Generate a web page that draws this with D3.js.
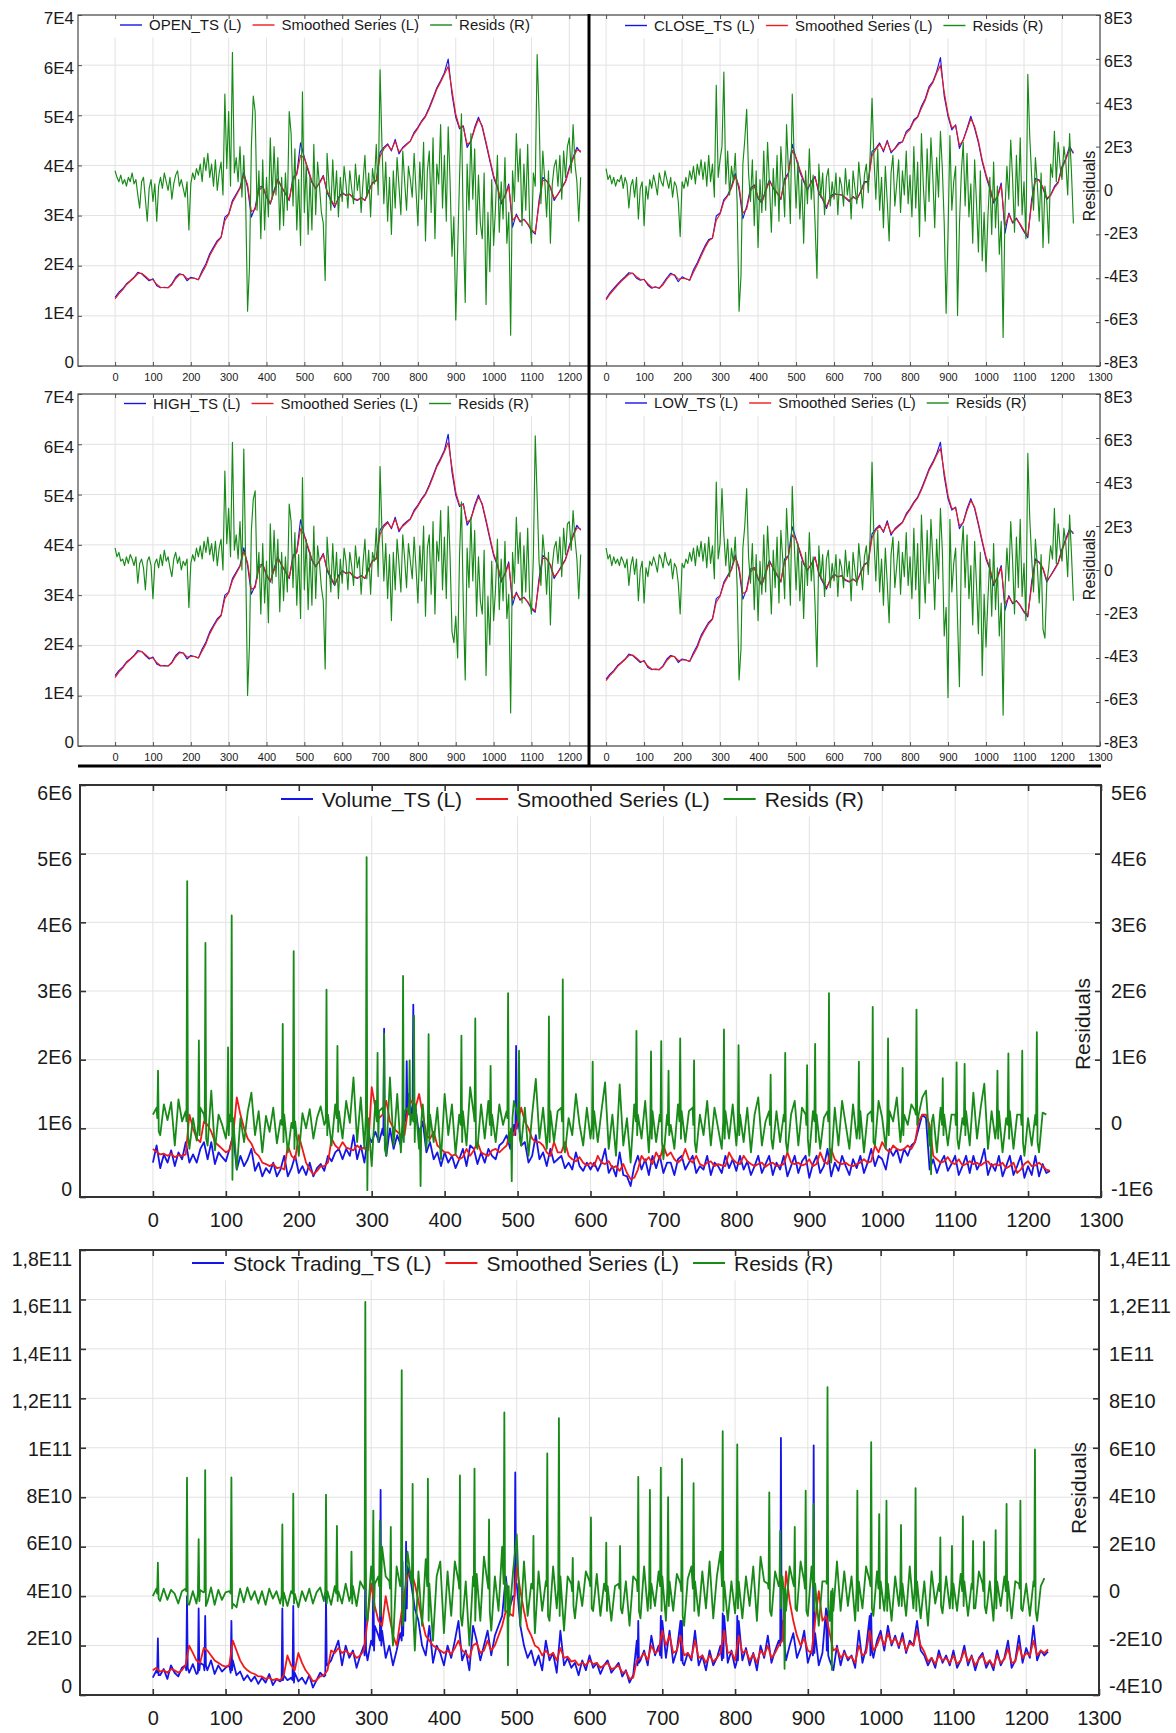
<!DOCTYPE html>
<html><head><meta charset="utf-8">
<script src="https://cdn.jsdelivr.net/npm/d3@7"></script>
<style>
html,body{margin:0;padding:0;background:#fff;}
svg{display:block;}
</style></head><body>
<svg id="chart" width="1176" height="1733"></svg>
<script>
// ---------------- DATA ----------------
// Units: OHLC in 1E3, Volume in 1E5, Stock trading in 1E9
const OHLC_UNIT = 1e3, VOL_UNIT = 1e5, ST_UNIT = 1e9;
const STEP_LEVEL = 10, STEP_RESID = 5, STEP_BOTTOM = 5;

const OPEN_TS = [
13.7,14.7,15.4,16.4,17.0,17.7,18.7,18.4,17.7,17.0,
17.4,16.0,15.6,15.7,15.6,16.4,17.7,18.4,18.2,17.0,
17.7,17.5,17.2,19.0,20.4,22.4,23.7,25.0,25.7,29.7,
30.3,33.0,34.3,35.6,38.6,35.6,29.7,31.6,35.6,35.9,
33.6,32.3,35.0,37.3,35.6,34.3,33.0,37.6,38.3,44.5,
41.6,38.9,36.6,35.3,36.6,38.0,34.6,33.0,31.6,33.6,
34.6,34.0,34.3,33.3,33.0,33.6,33.0,35.0,36.6,37.0,
42.6,43.6,44.3,42.9,45.2,42.3,43.6,44.3,44.9,46.6,
47.6,48.9,49.9,51.6,53.5,55.5,56.9,58.5,61.2,54.2,
49.6,47.3,47.9,43.6,44.9,47.6,49.6,47.6,44.3,40.9,
37.6,35.6,32.3,34.0,36.3,27.7,30.3,28.7,29.3,28.3,
27.0,26.3,33.0,37.6,36.9,35.6,33.0,34.3,35.6,36.9,
39.6,41.6,43.6,42.6];
const OPEN_SM = [
13.4,14.4,15.2,16.2,16.9,17.6,18.4,18.5,17.9,17.2,
17.2,16.3,15.7,15.6,15.6,16.2,17.4,18.2,18.2,17.4,
17.5,17.5,17.2,18.6,20.0,22.0,23.4,24.7,25.6,29.0,
30.2,32.6,34.0,35.4,38.0,36.2,30.8,31.2,35.0,35.8,
33.9,32.5,34.6,37.0,35.8,34.5,33.2,37.0,38.2,42.0,
41.5,39.3,36.9,35.5,36.4,37.8,35.0,33.3,31.9,33.3,
34.4,34.1,34.2,33.5,33.1,33.5,33.1,34.7,36.4,36.9,
41.8,43.3,44.1,43.1,44.8,42.7,43.4,44.1,44.8,46.3,
47.4,48.7,49.7,51.3,53.2,55.2,56.6,58.2,59.8,55.0,
50.2,47.6,47.7,44.2,44.8,47.2,49.2,47.9,44.7,41.3,
38.0,35.9,32.8,33.8,35.9,29.0,30.0,28.9,29.2,28.4,
27.2,26.6,32.2,37.0,37.0,35.8,33.4,34.2,35.4,36.7,
39.2,41.3,43.1,42.9];
const OPEN_RES = [
0.9,0.6,0.4,0.7,0.3,0.5,0.2,0.6,0.4,0.8,0.3,0.5,-0.2,-0.8,0.4,0.6,-0.4,-1.4,0.1,0.5,
-0.5,0.3,-1.4,0.2,0.6,0.1,0.8,0.4,0.0,0.6,-0.4,0.3,0.7,0.9,0.2,0.5,0.1,-0.3,0.4,-1.8,
0.3,0.8,0.5,1.0,0.7,1.2,0.4,1.5,0.9,1.7,0.6,1.2,0.2,1.4,0.0,0.8,1.3,-0.2,4.4,1.0,
3.6,0.2,6.3,0.8,1.5,0.4,2.0,-0.3,1.6,-0.5,-5.5,-3.5,2.0,4.3,3.6,-0.9,0.9,-2.2,1.4,-1.8,
0.6,-1.2,2.4,-0.4,2.0,-0.2,1.5,-1.8,0.6,-1.6,0.8,-0.9,3.6,2.6,-0.7,1.9,-1.8,0.5,-2.5,4.5,
-1.0,1.2,-2.0,0.6,-1.8,2.1,-1.1,1.3,0.2,-1.0,-1.5,-4.1,1.7,0.3,-0.9,1.4,-0.6,0.9,-1.2,0.6,
-0.5,1.1,0.3,-0.8,0.9,0.1,-0.6,1.2,0.0,0.7,-1.0,0.4,1.6,-0.3,0.8,-1.2,1.0,0.3,2.1,-0.2,
5.5,2.1,-0.6,1.3,-1.4,0.6,-2.0,0.9,-0.8,1.5,0.2,-1.1,1.8,0.4,-0.9,1.1,0.5,-0.3,1.7,0.0,
-1.6,1.3,-0.4,2.2,-2.3,0.9,1.8,-1.0,2.4,-2.2,1.2,0.3,3.0,-0.8,1.6,-1.4,2.9,0.4,-3.0,-1.2,
-5.9,-2.7,0.6,3.5,-1.8,-5.1,1.2,-0.9,2.6,-0.4,1.9,-2.0,0.7,-1.5,-2.2,0.8,-5.2,-1.0,-3.7,0.5,
-2.5,-0.8,1.6,-1.9,0.4,-1.3,1.5,-2.4,-1.0,-6.6,0.9,-0.5,2.6,0.4,1.9,-1.6,1.2,-0.9,2.1,-1.3,
-2.4,0.8,0.2,6.2,3.6,-0.6,1.8,0.5,-1.2,0.9,-2.4,0.3,1.1,1.4,0.2,1.6,-0.4,1.8,0.6,2.0,
2.4,0.8,3.0,1.2,0.4,-1.4,0.6];

const CLOSE_TS = [
13.4,14.6,15.5,16.3,17.1,17.8,18.6,18.5,17.5,17.1,
17.3,16.1,15.5,15.8,15.5,16.5,17.6,18.5,18.1,16.8,
17.8,17.4,17.1,19.2,20.6,22.3,23.9,25.2,25.5,29.9,
30.5,33.2,34.1,35.8,38.4,35.2,29.4,31.8,35.4,36.1,
33.4,32.5,35.2,37.1,35.4,34.5,33.2,37.4,38.5,44.2,
41.4,38.7,36.8,35.1,36.8,37.8,34.4,33.2,31.4,33.8,
34.4,34.2,34.1,33.5,32.8,33.8,33.2,34.8,36.8,36.8,
42.8,43.4,44.5,42.7,45.0,42.5,43.4,44.5,44.7,46.8,
47.4,49.1,49.7,51.8,53.3,55.7,56.7,58.7,61.5,53.8,
49.8,47.1,48.1,43.4,45.1,47.4,49.8,47.4,44.5,40.7,
37.8,35.4,32.5,33.8,36.5,26.5,30.5,28.5,29.5,28.1,
26.8,25.6,33.2,37.4,37.1,35.4,33.2,34.1,35.8,36.7,
39.8,41.4,43.8,42.4];
const CLOSE_SM = [
13.2,14.3,15.2,16.1,16.9,17.6,18.3,18.5,17.8,17.3,
17.2,16.4,15.7,15.7,15.5,16.2,17.3,18.2,18.2,17.3,
17.5,17.4,17.1,18.7,20.2,21.9,23.5,24.9,25.5,29.1,
30.3,32.8,33.9,35.5,37.8,35.9,30.5,31.3,34.9,35.9,
33.8,32.7,34.8,36.8,35.7,34.6,33.4,36.8,38.3,43.0,
41.6,39.2,37.1,35.4,36.5,37.6,34.9,33.4,31.8,33.4,
34.2,34.2,34.1,33.6,33.0,33.6,33.3,34.6,36.5,36.7,
42.0,43.2,44.2,43.0,44.7,42.8,43.3,44.2,44.7,46.4,
47.2,48.8,49.6,51.4,53.0,55.3,56.5,58.4,60.0,54.6,
50.3,47.5,47.9,44.0,45.0,47.1,49.3,47.8,44.9,41.1,
38.2,35.8,33.0,33.6,36.0,28.0,30.2,28.7,29.3,28.3,
27.0,26.0,32.4,36.8,37.1,35.6,33.5,34.0,35.5,36.5,
39.4,41.1,43.2,42.7];
const CLOSE_RES = [
1.0,0.5,0.7,0.3,0.6,0.2,0.5,0.4,0.7,0.1,0.6,0.3,-0.8,0.2,0.5,-0.3,0.6,-1.3,0.1,0.4,
-1.6,0.2,-0.4,0.5,0.1,0.7,0.3,-0.2,0.8,0.4,0.2,0.9,0.5,0.1,0.6,-0.3,0.4,0.2,-0.5,-2.1,
0.4,0.1,0.6,0.2,0.9,0.5,1.1,0.3,1.2,0.7,1.4,0.5,1.3,0.2,1.6,0.4,1.2,-0.3,4.8,0.6,
1.4,2.0,5.4,0.3,1.8,-0.2,1.1,0.4,1.7,-0.6,-5.5,-3.9,1.2,2.3,3.7,0.8,-0.5,1.4,-1.6,0.9,
-2.6,0.5,-1.0,1.8,-0.9,2.2,0.3,-1.9,1.0,-0.7,1.6,-1.4,2.0,0.6,-1.2,3.0,0.9,-1.5,4.4,1.5,
-0.8,1.3,-1.3,0.5,-2.4,0.9,-0.6,1.9,-0.4,0.7,-1.5,-4.0,1.2,-0.3,0.8,-1.1,0.6,1.0,-0.7,0.4,
-0.4,0.8,-1.1,0.6,0.2,-0.7,1.0,-0.2,0.5,-1.3,0.9,0.1,-0.6,1.3,0.3,-0.8,0.7,1.2,-0.1,1.6,
4.2,1.5,-0.4,1.9,-0.9,0.6,-1.7,1.1,-0.5,-2.3,0.8,1.6,-0.7,0.3,1.4,-1.0,0.9,-0.2,1.8,-0.6,
0.7,-1.2,2.0,-0.8,1.3,-2.1,2.6,0.2,-1.4,1.9,-0.5,2.4,0.6,-1.7,1.5,-0.3,2.7,1.0,-1.5,-5.6,
-2.0,2.5,-0.9,0.4,1.1,-5.7,-1.6,0.8,2.2,-0.7,1.7,-1.2,0.3,-2.4,1.4,-0.6,-2.8,0.9,-3.2,-1.0,
-3.7,-1.2,0.6,-2.0,1.3,-1.7,0.2,-2.9,-1.4,-6.7,-0.8,1.1,-0.4,2.3,0.5,-1.9,1.6,-0.7,2.4,-1.1,
0.4,-2.2,5.3,2.5,0.7,-0.9,1.5,0.3,-1.4,0.8,-2.6,0.2,-0.5,-2.4,1.2,0.6,2.7,0.4,2.2,1.1,
0.5,2.0,1.3,-0.2,2.6,0.8,-1.5];

const HIGH_TS = [
14.0,15.0,15.7,16.7,17.3,18.0,19.0,18.8,18.0,17.3,
17.7,16.3,15.9,16.0,15.9,16.7,18.0,18.7,18.5,17.3,
18.0,17.8,17.5,19.3,20.7,22.7,24.0,25.3,26.0,30.0,
30.6,33.3,34.6,35.9,39.4,35.9,30.2,31.9,35.9,36.2,
33.9,32.6,35.3,37.6,35.9,34.6,33.3,37.9,38.6,45.0,
41.9,39.2,36.9,35.6,36.9,38.3,34.9,33.3,31.9,33.9,
34.9,34.3,34.6,33.6,33.3,33.9,33.3,35.3,36.9,37.3,
43.0,43.9,44.6,43.2,45.5,42.6,43.9,44.6,45.2,46.9,
47.9,49.2,50.2,51.9,53.8,55.8,57.2,58.8,62.0,54.5,
49.9,47.6,48.2,43.9,45.2,47.9,49.9,47.9,44.6,41.2,
37.9,35.9,32.6,34.3,36.6,28.0,30.6,29.0,29.6,28.6,
27.3,26.6,33.3,37.9,37.2,35.9,33.3,34.6,35.9,37.2,
39.9,41.9,43.9,42.9];
const HIGH_SM = [
13.6,14.7,15.5,16.5,17.2,17.9,18.7,18.8,18.2,17.5,
17.5,16.6,16.0,15.9,15.9,16.5,17.7,18.5,18.5,17.7,
17.8,17.8,17.5,18.9,20.3,22.3,23.7,25.0,25.9,29.3,
30.5,32.9,34.3,35.7,38.6,36.5,31.2,31.5,35.3,36.1,
34.2,32.8,34.9,37.3,36.1,34.8,33.5,37.3,38.5,43.2,
41.8,39.6,37.2,35.8,36.7,38.1,35.3,33.6,32.2,33.6,
34.7,34.4,34.5,33.8,33.4,33.8,33.4,35.0,36.7,37.2,
42.1,43.6,44.4,43.4,45.1,43.0,43.7,44.4,45.1,46.6,
47.7,49.0,50.0,51.6,53.5,55.5,56.9,58.5,60.4,55.4,
50.5,47.9,48.0,44.5,45.1,47.5,49.5,48.2,45.0,41.6,
38.3,36.2,33.1,34.1,36.2,29.3,30.3,29.2,29.5,28.7,
27.5,26.9,32.5,37.3,37.3,36.1,33.7,34.5,35.7,37.0,
39.5,41.6,43.4,43.2];
const HIGH_RES = [
1.0,0.6,0.8,0.4,0.5,0.2,0.6,0.3,0.7,0.5,0.2,0.6,-0.6,0.3,0.5,0.1,-0.9,0.4,0.6,0.2,
-1.3,0.3,0.5,0.1,0.7,0.2,0.9,0.4,0.6,0.1,-0.3,0.5,0.8,0.3,0.6,0.0,0.4,0.2,0.5,-1.7,
0.3,0.7,0.4,1.0,0.6,1.1,0.5,1.3,0.8,1.5,0.7,1.2,0.4,1.3,0.2,1.0,1.4,0.0,4.5,1.2,
2.8,0.6,5.8,0.9,1.6,0.5,2.2,0.0,5.5,0.3,-5.7,-3.4,1.8,3.2,3.6,-0.4,0.8,-2.0,1.2,-1.5,
0.4,-2.4,2.1,-0.6,1.8,-0.3,1.4,-1.9,0.8,-1.4,0.6,-1.0,3.0,2.2,-0.8,1.7,-1.6,0.7,-2.2,4.2,
-0.9,1.4,-1.8,0.8,-1.6,2.0,-1.3,1.1,0.3,-0.8,-1.4,-4.5,1.5,0.2,-1.0,1.2,-0.7,0.8,-1.3,0.5,
-0.6,1.0,0.4,-0.9,0.8,0.2,-0.7,1.1,0.1,0.6,-1.1,0.3,1.4,-0.4,0.9,-1.1,0.8,0.4,1.9,-0.3,
4.7,1.8,-0.5,1.2,-1.3,0.7,-2.3,0.8,-0.9,1.4,0.3,-1.0,1.6,0.5,-0.8,1.2,0.4,-0.4,1.5,0.1,
-1.5,1.1,-0.5,2.0,-2.1,1.0,1.6,-1.1,2.2,-2.0,1.3,0.4,2.7,-0.9,1.5,-1.3,2.9,0.6,-2.8,-3.3,
-2.1,-4.0,0.7,3.1,-1.6,-5.0,1.0,-0.8,2.4,-0.5,1.8,-2.1,0.6,-1.4,-2.0,0.9,-4.8,-1.2,-3.4,0.4,
-2.3,-0.9,1.4,-1.8,0.5,-1.4,1.3,-2.2,-1.1,-6.5,0.8,-0.6,2.4,0.3,1.7,-1.5,1.1,-1.0,1.9,-1.2,
-2.0,0.6,6.1,3.3,0.4,-0.7,1.6,0.6,-1.1,0.8,-2.5,0.2,1.0,1.3,0.3,1.5,-0.3,1.9,0.7,2.1,
2.2,0.9,2.7,1.4,0.5,-1.3,0.7];

const LOW_TS = [
13.3,14.3,15.0,16.0,16.6,17.3,18.3,18.0,17.3,16.6,
17.0,15.6,15.2,15.3,15.2,16.0,17.3,18.0,17.8,16.6,
17.3,17.1,16.8,18.6,20.0,22.0,23.3,24.6,25.3,29.3,
29.9,32.6,33.9,35.2,38.0,35.0,29.2,31.2,35.2,35.5,
33.2,31.9,34.6,36.9,35.2,33.9,32.6,37.2,37.9,43.6,
41.2,38.5,36.2,34.9,36.2,37.6,34.2,32.6,31.2,33.2,
34.2,33.6,33.9,32.9,32.6,33.2,32.6,34.6,36.2,36.6,
42.2,43.2,43.9,42.5,44.8,41.9,43.2,43.9,44.5,46.2,
47.2,48.5,49.5,51.2,53.1,55.1,56.5,58.1,60.4,53.6,
49.2,46.9,47.5,43.2,44.5,47.2,49.2,47.2,43.9,40.5,
37.2,35.2,31.9,33.6,35.9,27.0,29.9,28.3,28.9,27.9,
26.6,25.7,32.6,37.2,36.5,35.2,32.6,33.9,35.2,36.5,
39.2,41.2,43.2,42.2];
const LOW_SM = [
13.0,14.0,14.8,15.8,16.5,17.2,18.0,18.1,17.5,16.8,
16.8,15.9,15.3,15.2,15.2,15.8,17.0,17.8,17.8,17.0,
17.1,17.1,16.8,18.2,19.6,21.6,23.0,24.3,25.2,28.6,
29.8,32.2,33.6,35.0,37.5,35.6,30.3,30.8,34.6,35.4,
33.5,32.1,34.2,36.6,35.4,34.1,32.8,36.6,37.8,42.0,
41.1,38.9,36.5,35.1,36.0,37.4,34.6,32.9,31.5,32.9,
34.0,33.7,33.8,33.1,32.7,33.1,32.7,34.3,36.0,36.5,
41.4,42.9,43.7,42.7,44.4,42.3,43.0,43.7,44.4,45.9,
47.0,48.3,49.3,50.9,52.8,54.8,56.2,57.8,59.2,54.4,
49.8,47.2,47.3,43.8,44.4,46.8,48.8,47.5,44.3,40.9,
37.6,35.5,32.4,33.4,35.5,28.3,29.6,28.5,28.8,28.0,
26.8,26.0,31.8,36.6,36.6,35.4,33.0,33.8,35.0,36.3,
38.8,40.9,42.7,42.5];
const LOW_RES = [
1.0,0.5,0.7,0.2,0.6,0.3,0.5,0.2,0.6,0.4,0.1,0.5,-0.7,0.2,0.6,-0.2,0.5,-1.4,0.0,0.4,
-1.5,0.1,-0.3,0.4,0.2,0.6,0.3,-0.1,0.7,0.5,0.1,0.8,0.4,0.2,0.5,-0.4,0.3,0.1,-0.6,-2.0,
0.3,0.1,0.5,0.3,0.8,0.4,1.0,0.2,1.1,0.6,1.3,0.4,1.2,0.1,1.5,0.3,1.1,-0.4,4.0,0.5,
1.2,3.7,1.6,0.2,1.4,-0.3,1.0,0.3,1.5,-0.8,-5.0,-3.6,1.0,2.0,3.7,0.6,-0.6,1.2,-1.8,0.7,
-2.3,0.4,-1.1,1.6,-1.0,2.0,0.2,-2.0,0.9,-0.8,1.5,-1.5,1.8,0.5,-1.3,2.8,0.8,-1.6,3.8,1.3,
-0.9,1.2,-1.4,0.4,-2.2,0.8,-0.7,1.7,-0.5,0.6,-1.6,-4.4,1.1,-0.4,0.7,-1.2,0.5,0.9,-0.8,0.3,
-0.5,0.7,-1.2,0.5,0.1,-0.8,0.9,-0.3,0.4,-1.4,0.8,0.0,-0.7,1.2,0.2,-0.9,0.6,1.1,-0.2,1.5,
4.9,1.4,-0.5,1.8,-1.0,0.5,-1.6,1.0,-0.6,-2.4,0.7,1.5,-0.8,0.2,1.3,-1.1,0.8,-0.3,1.7,-0.7,
0.6,-1.3,1.9,-0.9,1.2,-2.2,2.5,0.1,-1.5,1.8,-0.6,2.3,0.5,-1.8,1.4,-0.4,2.8,0.9,-3.0,-1.7,
-5.8,2.3,-1.0,0.3,1.0,-2.2,-5.3,0.7,2.0,-0.8,1.6,-1.3,0.2,-2.5,1.3,-0.7,-2.9,0.8,-4.8,-1.1,
-3.5,-1.3,0.5,-2.1,1.2,-1.8,0.1,-3.0,-1.5,-6.6,-0.9,1.0,-0.5,2.2,0.4,-2.0,1.5,-0.8,2.3,-1.2,
0.3,-2.3,5.3,2.4,0.6,-1.0,1.4,0.2,-1.5,0.7,-2.7,-3.1,-0.6,0.1,1.1,0.5,2.8,0.3,2.1,1.0,
0.4,1.9,1.2,-0.3,2.5,0.7,-1.4];

// Volume (bottom panels): step-5 readings plus single-day spike readings [day, value]
const VOL_TS = [
5.0,7.5,4.2,6.2,5.0,6.8,4.5,6.5,5.5,8.0,5.0,6.2,5.0,7.0,8.0,5.5,8.0,4.8,6.5,5.8,
5.2,7.0,9.0,4.0,6.0,4.5,5.5,7.0,3.8,5.0,3.0,4.2,3.5,5.0,3.0,4.0,6.0,3.0,4.2,6.0,
3.5,4.5,3.2,5.0,3.0,4.2,4.8,3.8,6.0,5.2,6.5,7.0,5.5,7.0,6.0,9.0,5.5,7.5,5.0,9.0,
8.0,9.5,8.0,10.0,6.0,10.0,7.0,9.0,7.5,12.0,15.0,12.0,13.0,9.0,11.0,6.5,8.0,5.5,6.5,4.5,
6.5,5.0,6.0,4.2,5.5,7.0,4.5,7.5,7.0,4.8,6.5,5.0,7.0,6.0,5.5,7.5,8.0,9.0,7.0,10.5,
12.0,7.5,8.0,5.0,6.0,9.0,5.5,6.5,4.5,7.0,5.0,5.5,6.0,4.2,5.0,4.0,6.5,4.5,3.8,5.0,
4.0,5.0,3.8,5.0,7.0,3.5,4.5,3.0,6.5,3.2,3.0,1.6,4.5,6.0,4.0,5.5,3.2,6.0,4.2,6.0,
3.5,5.0,5.0,3.2,5.5,6.0,4.0,5.0,6.0,3.5,4.5,4.0,6.0,3.2,5.0,4.5,3.5,6.0,4.2,5.5,
3.8,6.0,4.0,5.2,3.2,4.5,6.0,3.5,4.8,6.0,3.2,5.0,4.0,6.0,3.0,4.5,6.0,3.5,5.2,6.0,
2.8,4.8,6.0,3.5,4.5,7.0,3.0,5.0,3.8,6.0,4.5,3.2,5.5,4.2,6.0,3.5,5.0,7.0,4.5,6.0,
5.5,4.0,7.0,6.0,7.0,5.0,7.0,6.0,7.5,8.0,10.0,12.0,11.5,4.0,5.5,3.5,5.0,6.0,3.8,4.8,
6.0,3.2,4.5,6.0,3.5,6.0,4.0,5.0,7.0,3.2,4.8,3.8,6.0,3.0,4.5,6.0,3.2,4.5,6.0,2.8,
4.5,3.2,6.0,3.0,4.8,3.5,3.8];
const VOL_TS_SPIKES = [
[316,9.0],[317,24.5],[318,8.0],[347,11.0],[348,19.8],[349,12.0],[356,13.0],[357,28.0],[358,11.0],
[497,9.0],[498,22.0],[499,10.0]];
const VOL_SM = [
7.0,6.6,6.2,6.3,6.0,6.3,5.8,6.1,6.0,6.2,12.0,10.0,8.5,8.0,11.0,10.5,9.5,8.0,7.5,7.0,
6.5,6.8,9.0,14.5,12.0,10.0,8.5,7.8,6.5,6.0,5.0,4.8,4.5,4.8,4.2,4.3,4.0,7.5,6.0,5.5,
9.0,7.0,5.0,4.0,3.3,3.8,4.5,4.5,5.0,8.5,7.5,7.0,8.0,7.2,7.0,6.8,7.5,7.0,7.2,6.8,
16.0,13.0,11.5,12.0,14.0,11.0,10.0,9.5,9.0,9.0,13.0,14.0,13.0,15.0,12.0,9.0,8.5,9.5,7.5,7.0,
6.5,6.5,6.0,6.2,5.5,5.8,7.0,6.0,6.8,8.0,6.5,6.2,6.0,6.8,7.0,6.5,7.0,7.5,9.5,9.0,
11.0,13.0,11.0,10.0,8.5,8.0,8.0,7.5,6.5,6.0,8.0,6.5,6.5,8.0,6.0,5.5,5.2,5.8,5.0,4.6,
5.0,4.5,6.0,5.0,4.8,5.2,4.2,4.5,3.8,4.8,3.5,2.6,2.8,4.0,6.0,5.2,5.8,4.8,6.5,5.5,
7.5,6.0,6.5,5.5,5.0,5.5,7.0,5.5,5.0,6.0,4.8,4.5,5.0,5.2,4.5,4.8,4.6,4.5,6.5,5.5,
5.0,4.8,6.0,5.2,4.8,4.5,4.8,5.0,4.4,4.8,5.0,4.5,4.6,4.8,6.5,5.0,4.8,5.0,4.6,4.8,
5.5,4.5,4.8,6.5,5.2,4.8,7.0,5.5,5.0,4.8,5.0,4.6,4.5,4.8,5.0,5.5,5.0,5.2,7.5,6.5,
8.0,7.0,6.5,7.5,7.0,6.8,7.0,7.5,7.0,8.0,11.0,12.0,12.0,10.5,6.0,5.5,5.0,5.2,5.8,5.0,
4.8,5.5,4.6,4.8,5.2,4.8,5.0,4.6,5.0,5.2,4.5,4.8,4.6,5.0,4.2,4.5,5.0,3.5,4.0,4.8,
5.2,4.5,4.6,5.0,4.5,4.0,3.8];
const VOL_RES = [
2.0,3.0,-1.0,3.5,1.2,3.8,-2.5,4.2,1.0,2.5,-3.0,1.5,-1.8,3.0,2.0,-2.5,5.5,-3.2,2.0,0.5,
-1.5,2.0,1.5,-6.0,1.5,-2.0,2.4,5.2,-1.0,2.5,-3.5,1.8,-0.5,3.0,-2.2,1.2,2.0,-3.5,0.8,1.0,
-4.0,2.2,0.0,2.8,-1.5,1.5,3.2,0.5,2.0,-2.5,3.5,2.5,-1.5,4.0,0.8,7.4,-2.0,4.5,-3.0,1.5,
-5.5,4.0,2.5,3.0,-4.0,7.4,-2.5,5.0,-3.5,2.5,3.0,2.0,3.5,-3.0,3.5,-3.0,2.0,-2.0,3.0,-4.5,
5.0,-1.0,3.5,-3.8,2.0,2.5,-2.5,6.0,2.0,-3.0,3.5,-1.5,4.0,2.0,-2.0,3.5,0.5,2.5,-2.0,4.0,
2.0,-2.5,3.0,-4.0,2.0,7.2,-1.5,3.0,-3.0,2.5,-2.0,2.5,3.0,-3.5,1.5,-1.0,5.0,0.5,-2.5,3.0,
-1.5,2.5,-2.0,2.5,6.7,-3.0,2.0,-4.0,6.4,-2.5,1.5,-5.0,3.5,2.0,-1.5,4.0,-3.5,2.5,-2.0,2.0,
-4.5,2.0,0.5,-3.0,3.5,2.5,-2.0,2.5,3.0,-3.5,2.0,-1.0,4.0,-2.5,3.0,0.0,-3.0,2.5,-1.5,3.5,
-2.5,2.0,-2.0,3.0,-3.5,2.0,4.5,-2.5,1.0,2.5,-3.0,2.5,-2.0,2.0,-3.5,2.0,4.0,-2.5,3.0,2.0,
-4.0,2.5,2.0,-3.0,1.5,2.5,-5.0,3.0,-2.5,4.0,0.5,-3.0,3.5,-1.5,2.5,-3.5,2.0,2.5,-2.5,4.0,
1.5,-3.0,2.5,1.0,4.5,-2.0,2.0,0.5,3.5,2.5,2.0,4.5,5.5,-2.5,2.0,-3.5,3.0,2.0,-2.5,2.0,
2.0,-3.0,1.5,2.5,-2.5,5.2,-1.5,3.0,6.5,-3.0,2.5,-1.5,2.5,-3.5,1.5,2.5,-3.0,2.0,2.0,-4.0,
1.5,-2.5,2.0,-3.5,2.3,2.0];
const VOL_RES_SPIKES = [
[6,1.5],[7,8.4],[8,-0.5],[46,1.0],[47,36.0],[48,-1.0],[62,0.5],[63,12.8],[64,-1.0],
[71,1.0],[72,27.0],[73,-1.5],[102,0.5],[103,11.8],[104,-1.0],[107,1.0],[108,31.0],[109,-7.5],
[177,0.5],[178,15.2],[179,-2.0],[192,0.0],[193,25.8],[194,-3.0],[237,1.0],[238,20.2],[239,-1.0],
[252,1.5],[253,12.0],[254,-0.5],[292,2.0],[293,39.5],[294,-9.0],[307,1.0],[308,11.0],[309,-2.0],
[316,2.0],[317,13.8],[318,-3.0],[342,1.0],[343,22.2],[344,-2.0],[351,2.0],[352,9.9],[353,0.5],
[357,1.0],[358,16.4],[359,-2.0],[366,0.0],[367,-8.4],[368,1.0],[377,1.0],[378,13.7],[379,-2.0],
[422,0.5],[423,13.5],[424,-2.0],[441,1.0],[442,16.0],[443,-2.5],[462,0.5],[463,9.1],[464,-1.0],
[486,1.5],[487,19.7],[488,-2.0],[491,0.0],[492,-7.7],[493,1.5],[501,1.0],[502,11.3],[503,-1.5],
[542,0.5],[543,16.3],[544,-2.0],[561,1.0],[562,21.7],[563,-2.5],[602,0.5],[603,9.7],[604,-1.5],
[662,1.0],[663,14.2],[664,-1.0],[682,0.5],[683,11.2],[684,-1.5],[696,1.0],[697,12.7],[698,-2.0],
[706,0.5],[707,8.4],[708,-1.0],[722,1.0],[723,13.1],[724,-1.5],[741,0.5],[742,9.9],[743,-2.0],
[782,1.0],[783,14.4],[784,-1.5],[802,0.5],[803,12.1],[804,-1.0],[846,0.5],[847,7.8],[848,-1.5],
[866,1.0],[867,11.0],[868,-2.0],[896,0.5],[897,9.2],[898,-1.5],[907,1.0],[908,12.3],[909,-2.0],
[926,1.0],[927,19.7],[928,-3.0],[967,0.5],[968,9.7],[969,-1.5],[986,1.0],[987,17.7],[988,-2.0],
[1007,1.0],[1008,13.1],[1009,-1.0],[1027,0.5],[1028,8.8],[1029,-1.0],[1046,2.0],[1047,17.3],[1048,0.5],
[1066,0.0],[1067,-6.7],[1068,1.0],[1082,0.5],[1083,7.3],[1084,-1.0],[1101,0.5],[1102,9.6],[1103,-1.5],
[1112,0.5],[1113,9.4],[1114,-1.0],[1157,0.5],[1158,8.4],[1159,-1.5],[1172,0.5],[1173,10.9],[1174,-1.5],
[1191,0.5],[1192,11.3],[1193,-2.0],[1211,0.5],[1212,14.0],[1213,-2.0]];

// Stock trading
const ST_TS = [
7.0,10.0,8.0,10.5,6.5,12.0,9.0,7.5,11.0,12.0,9.0,12.5,8.5,13.0,12.0,10.0,14.0,8.5,12.0,9.5,
11.0,12.0,14.0,8.0,9.5,6.0,8.0,5.5,7.5,4.5,7.0,5.0,8.5,4.0,6.5,5.5,8.0,6.0,7.0,9.0,
5.5,7.0,4.5,8.0,3.0,6.0,9.0,7.5,12.0,14.0,18.0,22.0,12.0,20.0,15.0,18.0,11.0,16.0,20.0,14.0,
22.0,28.0,24.0,26.0,15.0,20.0,12.0,18.0,25.0,40.0,52.0,45.0,35.0,30.0,20.0,16.0,28.0,13.0,20.0,17.0,
12.0,20.0,15.0,22.0,30.0,14.0,18.0,10.0,28.0,22.0,14.0,20.0,26.0,16.0,24.0,28.0,32.0,48.0,35.0,40.0,
45.0,28.0,20.0,15.0,18.0,12.0,16.0,10.0,22.0,14.0,17.0,9.0,26.0,12.0,15.0,11.0,13.0,8.0,14.0,10.0,
16.0,11.0,13.0,8.5,12.0,14.0,9.0,11.0,13.0,7.5,10.0,5.0,8.0,22.0,14.0,18.0,12.0,24.0,16.0,20.0,
30.0,15.0,26.0,13.0,18.0,30.0,12.0,17.0,14.0,26.0,12.0,16.0,10.0,18.0,12.0,15.0,20.0,32.0,13.0,18.0,
11.0,30.0,14.0,19.0,12.0,17.0,10.0,20.0,15.0,24.0,13.0,18.0,22.0,30.0,14.0,20.0,25.0,15.0,19.0,26.0,
13.0,18.0,25.0,12.0,17.0,35.0,14.0,10.0,20.0,12.0,18.0,14.0,16.0,11.0,26.0,13.0,19.0,32.0,15.0,22.0,
26.0,18.0,28.0,20.0,24.0,19.0,25.0,17.0,22.0,20.0,30.0,18.0,16.0,12.0,15.0,11.0,18.0,13.0,16.0,12.0,
18.0,11.0,14.0,20.0,12.0,16.0,10.0,15.0,17.0,11.0,14.0,10.0,18.0,12.0,15.0,22.0,11.0,14.0,24.0,13.0,
19.0,15.0,28.0,14.0,18.0,16.0,17.5];
const ST_TS_SPIKES = [
[6,9.0],[7,22.9],[8,8.0],[46,10.0],[47,40.0],[48,11.0],[62,9.0],[63,35.0],[64,10.0],
[71,10.0],[72,32.0],[73,12.0],[107,9.0],[108,30.0],[109,10.0],[177,6.0],[178,35.0],[179,6.0],
[192,6.0],[193,36.0],[194,5.0],[237,8.0],[238,40.0],[239,12.0],[291,16.0],[292,51.0],[293,18.0],
[302,20.0],[303,51.0],[304,18.0],[312,22.0],[313,83.0],[314,20.0],[342,22.0],[343,54.0],[344,24.0],
[347,30.0],[348,62.0],[349,35.0],[497,40.0],[498,90.0],[499,45.0],[666,12.0],[667,30.0],[668,13.0],
[697,16.0],[698,32.0],[699,15.0],[726,14.0],[727,30.0],[728,13.0],[782,14.0],[783,33.0],[784,15.0],
[802,13.0],[803,32.0],[804,14.0],[862,20.0],[863,104.0],[864,22.0],[907,16.0],[908,101.0],[909,17.0],
[926,18.0],[927,34.0],[928,16.0],[986,16.0],[987,33.0],[988,18.0]];
const ST_SM = [
10.0,11.0,9.5,10.0,9.0,10.5,10.0,9.0,10.0,12.0,20.0,17.0,14.0,13.0,19.0,18.0,16.0,14.0,13.0,12.0,
11.5,12.0,22.0,18.0,14.0,11.5,10.0,9.0,8.5,7.5,7.5,6.5,7.0,6.0,6.5,6.0,8.0,16.0,12.0,10.0,
17.0,13.0,10.0,8.0,5.5,6.0,7.5,8.0,10.0,18.0,17.0,19.0,17.0,18.0,16.5,17.0,15.0,16.0,18.0,30.0,
45.0,36.0,30.0,28.0,40.0,32.0,24.0,20.0,30.0,40.0,48.0,50.0,45.0,38.0,30.0,24.0,22.0,20.0,19.0,18.0,
17.0,18.0,16.5,19.0,22.0,18.0,17.0,15.0,20.0,21.0,17.0,18.0,22.0,18.0,20.0,24.0,28.0,34.0,33.0,32.0,
52.0,42.0,34.0,27.0,24.0,20.0,19.0,16.0,18.0,16.0,17.0,14.0,19.0,15.0,15.5,13.5,14.0,12.0,13.0,12.0,
14.0,12.5,13.0,11.0,12.0,13.0,10.5,11.0,12.0,9.0,9.5,6.5,7.0,14.0,15.0,17.0,14.0,20.0,17.0,18.0,
26.0,20.0,24.0,17.0,18.0,24.0,16.0,17.0,15.0,22.0,15.0,16.0,13.0,16.0,13.5,15.0,17.0,26.0,17.0,17.5,
14.0,24.0,17.0,18.0,14.0,16.5,13.0,18.0,16.0,20.0,15.0,17.0,20.0,22.0,50.0,38.0,30.0,24.0,20.0,23.0,
18.0,17.0,30.0,42.0,30.0,32.0,25.0,18.0,19.0,15.0,17.0,15.0,15.5,13.0,20.0,16.0,17.0,26.0,18.0,20.0,
24.0,20.0,25.0,21.0,23.0,20.0,23.0,18.0,21.0,20.0,26.0,20.0,17.5,13.5,15.0,12.5,16.0,14.0,15.0,13.0,
16.0,12.5,14.0,18.0,13.5,15.5,12.0,14.5,16.0,12.5,14.0,11.5,16.0,13.0,14.5,19.0,13.0,13.5,20.0,15.0,
17.0,16.0,22.0,16.0,18.0,17.0,18.5];
const ST_RES = [
0.0,3.0,-2.0,3.0,-1.5,2.5,1.0,-3.0,2.0,3.0,-3.5,2.0,-3.0,2.5,1.5,-2.5,3.5,-3.5,2.5,-1.5,
1.5,2.0,-3.0,-4.5,3.0,-2.5,3.5,-1.5,2.0,-3.0,2.0,-3.5,3.0,-1.0,2.0,-3.0,1.5,-4.0,2.0,1.0,
-4.5,2.0,-2.0,3.0,-3.0,1.5,3.5,-2.0,2.0,-3.5,4.0,2.0,-3.0,5.0,-2.0,4.0,-4.0,6.0,3.0,-10.0,
12.0,5.0,8.0,20.0,8.0,6.0,-20.0,12.0,4.0,-8.0,18.0,6.0,-22.0,10.0,-12.0,15.0,5.0,-18.0,8.0,14.0,
-15.0,10.0,-8.0,14.0,6.0,-12.0,6.0,-20.0,8.0,9.0,-10.0,16.0,5.0,-14.0,8.0,-6.0,20.0,6.0,-8.0,10.0,
25.0,-12.0,14.0,-8.0,5.0,-15.0,10.0,-6.0,6.0,-10.0,12.0,-5.0,8.0,-14.0,8.0,5.0,-9.0,6.0,-4.0,10.0,
6.0,-6.0,9.0,-8.0,5.0,4.0,-10.0,4.0,5.0,-7.0,6.0,-12.0,8.0,6.0,-9.0,12.0,-6.0,5.0,-4.0,10.0,
8.0,-10.0,6.0,-6.0,9.0,5.0,-12.0,7.0,12.0,6.0,-8.0,10.0,-5.0,14.0,-9.0,8.0,18.0,6.0,-10.0,6.0,
-7.0,6.0,-9.0,8.0,-4.0,12.0,-10.0,16.0,6.0,5.0,-8.0,10.0,4.0,8.0,-6.0,12.0,5.0,-6.0,14.0,6.0,
-8.0,12.0,5.0,-12.0,6.0,6.0,-10.0,-6.0,14.0,-6.0,10.0,-4.0,8.0,-10.0,6.0,-5.0,12.0,6.0,-8.0,10.0,
6.0,-6.0,5.0,-10.0,8.0,-4.0,5.0,-8.0,12.0,-5.0,6.0,-9.0,6.0,-12.0,10.0,-3.0,5.0,-7.0,8.0,-5.0,
5.0,-6.0,9.0,6.0,-8.0,5.0,-5.0,10.0,5.0,-7.0,6.0,-10.0,6.0,-4.0,8.0,6.0,-9.0,6.0,5.0,-6.0,
5.0,-8.0,6.0,-10.0,4.0,7.3];
const ST_RES_SPIKES = [
[6,1.0],[7,13.5],[8,-1.0],[46,2.0],[47,47.9],[48,-3.0],[62,1.0],[63,23.0],[64,-2.0],
[71,2.0],[72,51.0],[73,-4.0],[107,1.0],[108,48.0],[109,-5.0],[177,0.0],[178,29.0],[179,-4.0],
[192,1.0],[193,41.4],[194,-3.0],[237,2.0],[238,41.0],[239,-3.0],[252,1.0],[253,28.4],[254,-2.0],
[272,0.0],[273,18.0],[274,-3.0],[291,4.0],[292,119.0],[293,-8.0],[302,5.0],[303,34.6],[304,-6.0],
[311,4.0],[312,30.5],[313,-8.0],[326,3.0],[327,28.0],[328,-10.0],[341,6.0],[342,91.4],[343,-12.0],
[356,5.0],[357,45.4],[358,-8.0],[377,4.0],[378,47.5],[379,-10.0],[421,3.0],[422,48.8],[423,-8.0],
[441,4.0],[442,51.6],[443,-10.0],[461,3.0],[462,31.0],[463,-6.0],[482,5.0],[483,74.3],[484,-6.0],
[487,2.0],[488,-28.0],[489,4.0],[522,3.0],[523,24.4],[524,-6.0],[541,4.0],[542,57.7],[543,-8.0],
[557,3.0],[558,72.0],[559,-8.0],[576,2.0],[577,15.5],[578,-4.0],[601,4.0],[602,31.8],[603,-5.0],
[622,2.0],[623,21.6],[624,-6.0],[641,3.0],[642,20.3],[643,-5.0],[666,2.0],[667,48.2],[668,-6.0],
[682,3.0],[683,43.0],[684,-5.0],[697,4.0],[698,52.0],[699,-6.0],[707,3.0],[708,40.0],[709,-4.0],
[726,2.0],[727,55.5],[728,-8.0],[742,3.0],[743,45.7],[744,-6.0],[782,4.0],[783,66.7],[784,-6.0],
[802,2.0],[803,61.4],[804,-5.0],[846,3.0],[847,42.0],[848,-6.0],[861,4.0],[862,26.4],[863,-5.0],
[867,2.0],[868,-29.4],[869,3.0],[881,4.0],[882,28.0],[883,-5.0],[896,3.0],[897,42.7],[898,-6.0],
[907,4.0],[908,37.3],[909,-6.0],[926,5.0],[927,84.5],[928,-6.0],[932,2.0],[933,-29.8],[934,3.0],
[967,3.0],[968,42.7],[969,-6.0],[986,4.0],[987,62.3],[988,-5.0],[997,3.0],[998,33.2],[999,-5.0],
[1007,2.0],[1008,38.6],[1009,-6.0],[1027,3.0],[1028,28.8],[1029,-4.0],[1047,4.0],[1048,43.7],[1049,-6.0],
[1081,2.0],[1082,23.7],[1083,-4.0],[1097,3.0],[1098,20.3],[1099,-5.0],[1112,2.0],[1113,32.2],[1114,-4.0],
[1126,3.0],[1127,22.3],[1128,-5.0],[1141,2.0],[1142,22.0],[1143,-4.0],[1157,3.0],[1158,26.7],[1159,-5.0],
[1172,2.0],[1173,37.3],[1174,-6.0],[1191,3.0],[1192,38.6],[1193,-5.0],[1211,4.0],[1212,59.3],[1213,-6.0]];

// Tick values and labels
const X_TICKS_1200 = [0,100,200,300,400,500,600,700,800,900,1000,1100,1200];
const X_TICKS_1300 = [0,100,200,300,400,500,600,700,800,900,1000,1100,1200,1300];
const Y_OHLC = [0,1e4,2e4,3e4,4e4,5e4,6e4,7e4];
const Y_OHLC_LAB = ["0","1E4","2E4","3E4","4E4","5E4","6E4","7E4"];
const Y_OHLC_RES = [-8e3,-6e3,-4e3,-2e3,0,2e3,4e3,6e3,8e3];
const Y_OHLC_RES_LAB = ["-8E3","-6E3","-4E3","-2E3","0","2E3","4E3","6E3","8E3"];
const Y_VOL = [0,1e6,2e6,3e6,4e6,5e6,6e6];
const Y_VOL_LAB = ["0","1E6","2E6","3E6","4E6","5E6","6E6"];
const Y_VOL_RES = [-1e6,0,1e6,2e6,3e6,4e6,5e6];
const Y_VOL_RES_LAB = ["-1E6","0","1E6","2E6","3E6","4E6","5E6"];
const Y_ST = [0,2e10,4e10,6e10,8e10,1e11,1.2e11,1.4e11,1.6e11,1.8e11];
const Y_ST_LAB = ["0","2E10","4E10","6E10","8E10","1E11","1,2E11","1,4E11","1,6E11","1,8E11"];
const Y_ST_RES = [-4e10,-2e10,0,2e10,4e10,6e10,8e10,1e11,1.2e11,1.4e11];
const Y_ST_RES_LAB = ["-4E10","-2E10","0","2E10","4E10","6E10","8E10","1E11","1,2E11","1,4E11"];
const LEGEND_COMMON = ["Smoothed Series (L)", "Resids (R)"];
const RES_AXIS_TITLE = "Residuals";

// ---------------- STYLE / LAYOUT ----------------
const FONT = '"Liberation Sans", Arial, Helvetica, sans-serif';
const BLUE = "#1515e8", RED = "#f01a1a", GREEN = "#178a17", GRID = "#e2e2e2";
const SMALL = {lw:1.15, xFont:11, xPad:7, yLFont:17, yLPad:4, yRFont:16, yRPad:4, legFont:15, legLine:22, g1:7, g2:11, legLW:1.4,
  frame:"#4a4a4a", frameW:1.2, tick:4, k:0.02, resFont:16};
const BIG = {lw:1.8, xFont:20, xPad:16, yLFont:19.5, yLPad:8, yRFont:20, yRPad:10, legFont:21, legLine:32, g1:9, g2:14, legLW:2,
  frame:"#333", frameW:2, tick:6, k:0.04, resFont:21};

const panels = [
 {id:"open", name:"OPEN_TS (L)", ts:OPEN_TS, sm:OPEN_SM, res:OPEN_RES, unit:OHLC_UNIT, tsStep:STEP_LEVEL, resStep:STEP_RESID,
  x0:78, x1:589, y0:15, y1:366, xDom:[-98,1252], xTicks:X_TICKS_1200,
  yLDom:[0,7e4], yLT:Y_OHLC, yLLab:Y_OHLC_LAB, yRDom:[-8e3,8e3], yRT:Y_OHLC_RES, yRLab:Y_OHLC_RES_LAB,
  showL:true, showR:false, S:SMALL, legX:120, legY:25},
 {id:"close", name:"CLOSE_TS (L)", ts:CLOSE_TS, sm:CLOSE_SM, res:CLOSE_RES, unit:OHLC_UNIT, tsStep:STEP_LEVEL, resStep:STEP_RESID,
  x0:589, x1:1100, y0:15, y1:366, xDom:[-45,1300], xTicks:X_TICKS_1300,
  yLDom:[0,7e4], yLT:Y_OHLC, yLLab:Y_OHLC_LAB, yRDom:[-8e3,8e3], yRT:Y_OHLC_RES, yRLab:Y_OHLC_RES_LAB,
  showL:false, showR:true, S:SMALL, legX:625, legY:25.5, resX:1089, resY:186},
 {id:"high", name:"HIGH_TS (L)", ts:HIGH_TS, sm:HIGH_SM, res:HIGH_RES, unit:OHLC_UNIT, tsStep:STEP_LEVEL, resStep:STEP_RESID,
  x0:78, x1:589, y0:394, y1:746, xDom:[-98,1252], xTicks:X_TICKS_1200,
  yLDom:[0,7e4], yLT:Y_OHLC, yLLab:Y_OHLC_LAB, yRDom:[-8e3,8e3], yRT:Y_OHLC_RES, yRLab:Y_OHLC_RES_LAB,
  showL:true, showR:false, S:SMALL, legX:124, legY:403.5},
 {id:"low", name:"LOW_TS (L)", ts:LOW_TS, sm:LOW_SM, res:LOW_RES, unit:OHLC_UNIT, tsStep:STEP_LEVEL, resStep:STEP_RESID,
  x0:589, x1:1100, y0:394, y1:746, xDom:[-45,1300], xTicks:X_TICKS_1300,
  yLDom:[0,7e4], yLT:Y_OHLC, yLLab:Y_OHLC_LAB, yRDom:[-8e3,8e3], yRT:Y_OHLC_RES, yRLab:Y_OHLC_RES_LAB,
  showL:false, showR:true, S:SMALL, legX:625, legY:403, resX:1089, resY:565},
 {id:"vol", name:"Volume_TS (L)", ts:VOL_TS, tsSpikes:VOL_TS_SPIKES, sm:VOL_SM, res:VOL_RES, resSpikes:VOL_RES_SPIKES,
  unit:VOL_UNIT, tsStep:STEP_BOTTOM, resStep:STEP_BOTTOM,
  x0:80, x1:1101, y0:785, y1:1197, xDom:[-100,1300], xTicks:X_TICKS_1300,
  yLDom:[0,6e6], yLT:Y_VOL, yLLab:Y_VOL_LAB, yRDom:[-1e6,5e6], yRT:Y_VOL_RES, yRLab:Y_VOL_RES_LAB,
  showL:true, showR:true, S:BIG, legX:281, legY:799, resX:1083, resY:1024},
 {id:"stock", name:"Stock Trading_TS (L)", ts:ST_TS, tsSpikes:ST_TS_SPIKES, sm:ST_SM, res:ST_RES, resSpikes:ST_RES_SPIKES,
  unit:ST_UNIT, tsStep:STEP_BOTTOM, resStep:STEP_BOTTOM,
  x0:80, x1:1099, y0:1250, y1:1695, xDom:[-100,1300], xTicks:X_TICKS_1300,
  yLDom:[0,1.8e11], yLT:Y_ST, yLLab:Y_ST_LAB, yRDom:[-4e10,1.4e11], yRT:Y_ST_RES, yRLab:Y_ST_RES_LAB,
  showL:true, showR:true, S:BIG, legX:192, legY:1263, resX:1079, resY:1488}
];

const svg = d3.select("#chart").attr("font-family", FONT);
const defs = svg.append("defs");

// readings at a regular step merged with the single-day readings, ordered by day
function toPoints(values, step, extra){
  return values.map((v, i) => [i * step, v]).concat(extra || []).sort((a, b) => a[0] - b[0]);
}

function drawPanel(p){
  const S = p.S;
  const x = d3.scaleLinear().domain(p.xDom).range([p.x0, p.x1]);
  const yL = d3.scaleLinear().domain(p.yLDom).range([p.y1, p.y0]);
  const yR = d3.scaleLinear().domain(p.yRDom).range([p.y1, p.y0]);
  const mid = (p.y0 + p.y1) / 2;
  const g = svg.append("g");
  const clipId = "clip-" + p.id;
  defs.append("clipPath").attr("id", clipId).append("rect")
    .attr("x", p.x0).attr("y", p.y0).attr("width", p.x1 - p.x0).attr("height", p.y1 - p.y0);

  // grid
  g.append("g").selectAll("line").data(p.xTicks).join("line")
    .attr("x1", d => x(d)).attr("x2", d => x(d)).attr("y1", p.y0).attr("y2", p.y1)
    .attr("stroke", GRID).attr("stroke-width", 1);
  g.append("g").selectAll("line").data(p.yLT).join("line")
    .attr("x1", p.x0).attr("x2", p.x1).attr("y1", d => yL(d)).attr("y2", d => yL(d))
    .attr("stroke", GRID).attr("stroke-width", 1);

  // series
  const plot = g.append("g").attr("clip-path", `url(#${clipId})`);
  const mk = scale => d3.line().x(d => x(d[0])).y(d => scale(d[1] * p.unit));
  const draw = (pts, scale, color) => plot.append("path").datum(pts).attr("d", mk(scale)).attr("fill", "none")
    .attr("stroke", color).attr("stroke-width", S.lw).attr("stroke-linejoin", "round");
  draw(toPoints(p.ts, p.tsStep, p.tsSpikes), yL, BLUE);
  draw(toPoints(p.sm, p.tsStep), yL, RED);
  draw(toPoints(p.res, p.resStep, p.resSpikes), yR, GREEN);

  // legend
  const lg = g.append("g");
  const bg = lg.append("rect").attr("fill", "#fff");
  const items = [{t:p.name, c:BLUE}, {t:LEGEND_COMMON[0], c:RED}, {t:LEGEND_COMMON[1], c:GREEN}];
  let cx = p.legX;
  items.forEach(it => {
    lg.append("line").attr("x1", cx).attr("x2", cx + S.legLine).attr("y1", p.legY).attr("y2", p.legY)
      .attr("stroke", it.c).attr("stroke-width", S.legLW);
    cx += S.legLine + S.g1;
    const t = lg.append("text").attr("x", cx).attr("y", p.legY).attr("dy", "0.36em")
      .attr("font-size", S.legFont).attr("fill", "#1a1a1a").text(it.t);
    cx += t.node().getComputedTextLength() + S.g2;
  });
  bg.attr("x", p.legX - 7).attr("y", p.y0 + 1).attr("width", cx - S.g2 - p.legX + 14)
    .attr("height", p.legY + S.legFont * 0.78 - p.y0);

  // frame
  g.append("rect").attr("x", p.x0).attr("y", p.y0).attr("width", p.x1 - p.x0).attr("height", p.y1 - p.y0)
    .attr("fill", "none").attr("stroke", S.frame).attr("stroke-width", S.frameW);

  // axes
  const styleAxis = (sel, font) => {
    sel.attr("font-family", FONT).attr("font-size", font);
    sel.select(".domain").remove();
    sel.selectAll(".tick line").attr("stroke", S.frame).attr("stroke-width", S.frameW * 0.8);
    sel.selectAll(".tick text").attr("fill", "#1a1a1a");
  };
  const axB = d3.axisBottom(x).tickValues(p.xTicks).tickFormat(d3.format("d"))
    .tickSizeInner(-S.tick).tickSizeOuter(0).tickPadding(S.xPad);
  styleAxis(g.append("g").attr("transform", `translate(0,${p.y1})`).call(axB), S.xFont);
  const axT = d3.axisTop(x).tickValues(p.xTicks).tickSizeInner(-S.tick).tickSizeOuter(0).tickFormat("");
  styleAxis(g.append("g").attr("transform", `translate(0,${p.y0})`).call(axT), S.xFont);
  if (p.showL) {
    const axL = d3.axisLeft(yL).tickValues(p.yLT).tickFormat((d, i) => p.yLLab[i])
      .tickSizeInner(-S.tick).tickSizeOuter(0).tickPadding(S.yLPad);
    const gl = g.append("g").attr("transform", `translate(${p.x0},0)`).call(axL);
    styleAxis(gl, S.yLFont);
    gl.selectAll(".tick text").attr("y", d => (mid - yL(d)) * S.k);
  }
  if (p.showR) {
    const axR = d3.axisRight(yR).tickValues(p.yRT).tickFormat((d, i) => p.yRLab[i])
      .tickSizeInner(-S.tick).tickSizeOuter(0).tickPadding(S.yRPad);
    const gr = g.append("g").attr("transform", `translate(${p.x1},0)`).call(axR);
    styleAxis(gr, S.yRFont);
    gr.selectAll(".tick text").attr("y", d => (mid - yR(d)) * S.k);
    g.append("text").attr("transform", `translate(${p.resX},${p.resY}) rotate(-90)`)
      .attr("text-anchor", "middle").attr("dy", "0.35em").attr("font-size", S.resFont)
      .attr("fill", "#1a1a1a").text(RES_AXIS_TITLE);
  }
}

panels.forEach(drawPanel);

// heavy separators of the 2x2 block
svg.append("line").attr("x1", 589).attr("x2", 589).attr("y1", 14).attr("y2", 767)
  .attr("stroke", "#000").attr("stroke-width", 3);
svg.append("line").attr("x1", 78).attr("x2", 1101).attr("y1", 766).attr("y2", 766)
  .attr("stroke", "#000").attr("stroke-width", 3);
</script>
</body></html>
